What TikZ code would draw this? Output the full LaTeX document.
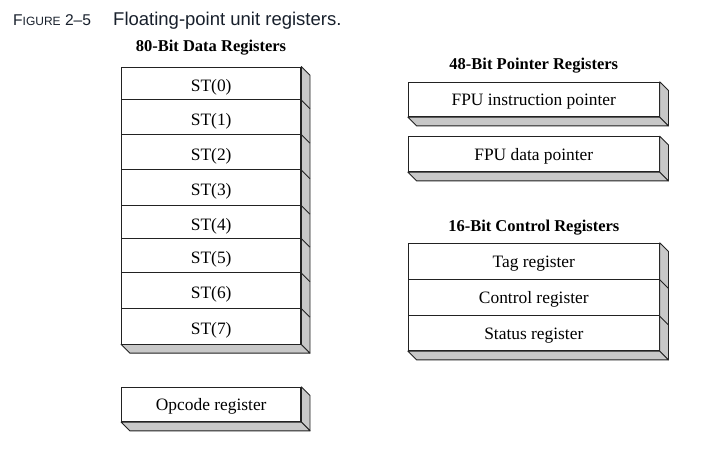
\documentclass[tikz,border=0pt]{standalone}
\usepackage{fontspec}
\setmainfont{Liberation Serif}
\newfontfamily\capfont{Liberation Sans}
\usetikzlibrary{calc}
\definecolor{sidegray}{HTML}{C8C8C8}
\definecolor{edge}{HTML}{222222}
\definecolor{capink}{HTML}{18202C}
\newcommand\dep{8.7}
\tikzset{
  reg/.style={draw=edge, line width=0.9pt, fill=white, inner sep=0pt,
    text height=14.6pt, text depth=3pt,
    font=\fontsize{17.4}{20}\selectfont},
  datareg/.style={reg, minimum width=179.3pt},
  lowtext/.style={text height=20pt, text depth=3pt},
  sidereg/.style={reg, minimum width=251pt},
  grouptitle/.style={font=\fontsize{16.5}{19}\selectfont\bfseries,
    anchor=base, inner sep=0pt},
  face/.style={fill=sidegray, draw=edge, line width=0.9pt, line join=round},
  ridge/.style={draw=edge, line width=0.9pt},
  caption/.style={anchor=base west, inner sep=0pt, text=capink},
}
% side and bottom faces of a register stack from #1 (top) to #2 (bottom)
\newcommand\stackfaces[2]{%
  \filldraw[face] (#1.north east) -- ++(\dep,\dep)
    -- ($(#2.south east)+(\dep,\dep)$) -- (#2.south east) -- cycle;
  \filldraw[face] (#2.south west) -- ++(\dep,\dep)
    -- ($(#2.south east)+(\dep,\dep)$) -- (#2.south east) -- cycle;
}
\begin{document}
\begin{tikzpicture}[x=1pt, y=-1pt]
  \fill[white] (0,0) rectangle (713,448);
  \useasboundingbox (0,0) rectangle (713,448);

  % caption
  \node[caption] (fig) at (13,25.7) {\capfont\fontsize{15.6}{18}\selectfont
    F\fontsize{12}{14}\selectfont IGURE\fontsize{15.6}{18}\selectfont\ 2–5};
  \node[caption] (figtext) at (113,25.7)
    {\capfont\fontsize{18.5}{22}\selectfont Floating-point unit registers.};

  % 80-bit data registers
  \node[grouptitle] (t80) at (211,51) {80-Bit Data Registers};
  \begin{scope}[every node/.append style={datareg, lowtext}]
    \node[minimum height=32.5pt] (st0) at (211.2,83.25)  {ST(0)};
    \node[minimum height=34.5pt] (st1) at (211.2,116.75) {ST(1)};
    \node[minimum height=35.5pt] (st2) at (211.2,151.75) {ST(2)};
    \node[minimum height=35.5pt] (st3) at (211.2,187.25) {ST(3)};
    \node[minimum height=33pt]   (st4) at (211.2,221.5)  {ST(4)};
    \node[minimum height=34.5pt] (st5) at (211.2,255.25) {ST(5)};
    \node[minimum height=35.5pt] (st6) at (211.2,290.25) {ST(6)};
    \node[minimum height=36pt]   (st7) at (211.2,326)    {ST(7)};
  \end{scope}
  \stackfaces{st0}{st7}
  \foreach \r in {st0,st1,st2,st3,st4,st5,st6}
    \draw[ridge] (\r.south east) -- ++(\dep,\dep);

  % opcode register
  \node[datareg, minimum height=34.4pt] (opc) at (211.2,404.5) {Opcode register};
  \stackfaces{opc}{opc}

  % 48-bit pointer registers
  \node[grouptitle] (t48) at (533.8,69) {48-Bit Pointer Registers};
  \node[sidereg, minimum height=34.4pt] (fip) at (533.8,99.5) {FPU instruction pointer};
  \stackfaces{fip}{fip}
  \node[sidereg, minimum height=35pt] (fdp) at (533.8,154.2) {FPU data pointer};
  \stackfaces{fdp}{fdp}

  % 16-bit control registers
  \node[grouptitle] (t16) at (533.8,231.5) {16-Bit Control Registers};
  \node[sidereg, minimum height=36pt]   (tag) at (533.8,261.3) {Tag register};
  \node[sidereg, minimum height=36.4pt] (ctl) at (533.8,297.5) {Control register};
  \node[sidereg, minimum height=35pt]   (sts) at (533.8,333.2) {Status register};
  \stackfaces{tag}{sts}
  \foreach \r in {tag,ctl}
    \draw[ridge] (\r.south east) -- ++(\dep,\dep);
\end{tikzpicture}
\end{document}
